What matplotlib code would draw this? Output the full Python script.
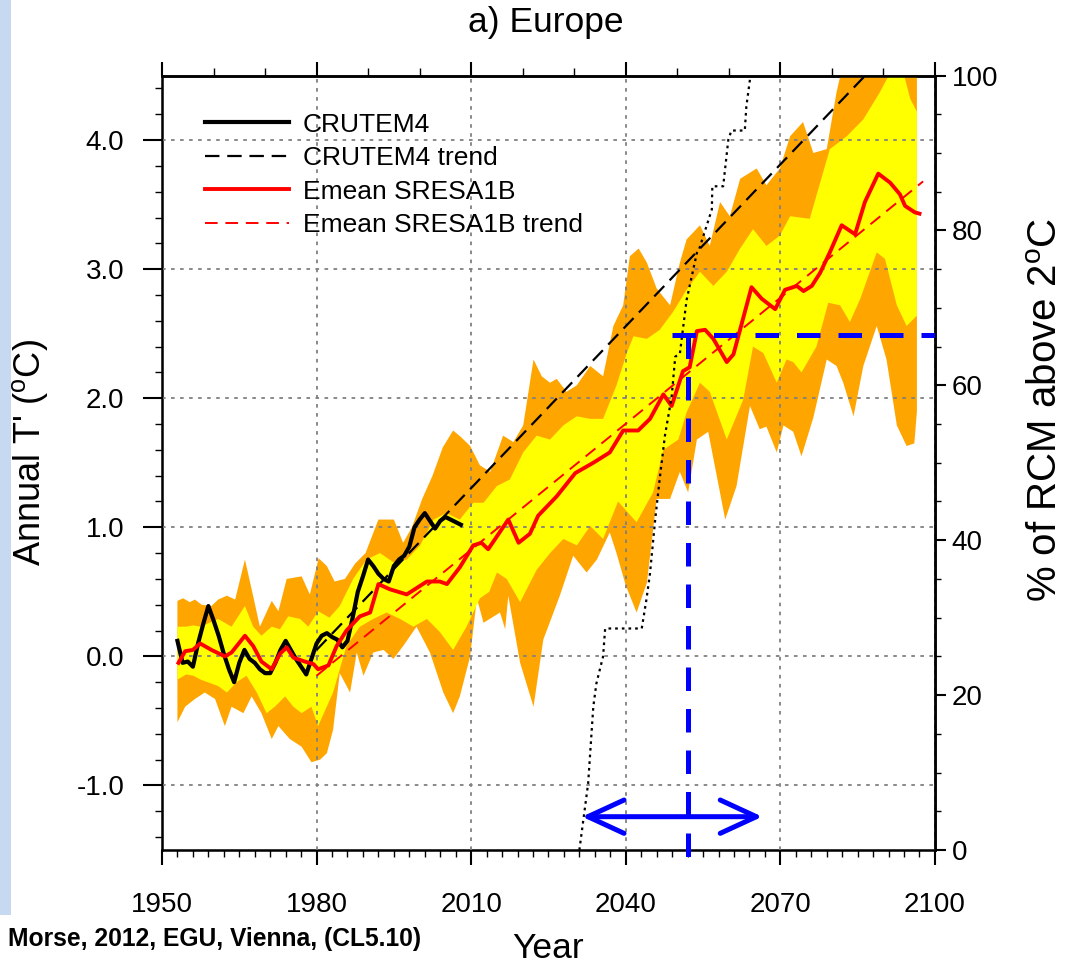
import numpy as np
import matplotlib.pyplot as plt
from matplotlib.patches import Rectangle
from matplotlib.lines import Line2D
from matplotlib.ticker import MultipleLocator, FormatStrFormatter

plt.rcParams['font.family'] = ['Liberation Sans', 'DejaVu Sans']
plt.rcParams['mathtext.fontset'] = 'custom'
plt.rcParams['mathtext.rm'] = 'Liberation Sans'
plt.rcParams['axes.unicode_minus'] = False

# ---- CRUTEM4 observed anomaly (annual, 1953-2008) ----
crutem_years = np.arange(1953, 2009)
crutem = [0.12, -0.05, -0.04, -0.08, 0.10, 0.25, 0.39, 0.28, 0.16, 0.02,
          -0.10, -0.20, -0.05, 0.05, -0.02, -0.05, -0.10, -0.13, -0.13, -0.05,
          0.05, 0.12, 0.05, -0.02, -0.08, -0.14, -0.02, 0.10, 0.16, 0.18,
          0.15, 0.13, 0.07, 0.12, 0.30, 0.50, 0.62, 0.75, 0.70, 0.64,
          0.60, 0.58, 0.70, 0.75, 0.78, 0.85, 1.00, 1.06, 1.11, 1.05,
          0.99, 1.05, 1.08, 1.06, 1.04, 1.02]
crutem_trend_years = [1980, 2097]
crutem_trend = [0.05, 4.94]

# ---- ensemble mean SRES A1B ----
emean_years = [1953.2, 1954.5, 1956.0, 1957.4, 1959.6, 1962.2, 1963.5, 1966.1, 1967.7,
               1969.3, 1971.3, 1972.9, 1974.2, 1975.5, 1977.7, 1979.4, 1980.3, 1982.3,
               1983.9, 1985.8, 1988.4, 1990.4, 1992.0, 1994.2, 1997.5, 2001.4, 2003.9,
               2005.3, 2007.8, 2010.4, 2012.0, 2013.3, 2015.0, 2017.2, 2019.2, 2021.4,
               2023.0, 2026.6, 2030.2, 2033.7, 2036.9, 2039.5, 2042.4, 2044.7, 2047.3,
               2048.9, 2051.1, 2052.4, 2053.8, 2055.4, 2057.0, 2059.6, 2060.9, 2064.4,
               2066.4, 2069.0, 2070.9, 2073.2, 2074.5, 2076.1, 2077.7, 2079.6, 2081.9,
               2084.5, 2086.4, 2089.0, 2091.3, 2093.2, 2094.2, 2096.1, 2097.0]
emean = [-0.05, 0.04, 0.05, 0.10, 0.05, 0.00, 0.03, 0.16, 0.08,
         -0.04, -0.10, 0.02, 0.07, -0.01, -0.04, -0.06, -0.10, -0.07,
         0.08, 0.20, 0.31, 0.34, 0.56, 0.52, 0.48, 0.58, 0.58,
         0.56, 0.69, 0.86, 0.88, 0.83, 0.93, 1.06, 0.88, 0.95,
         1.09, 1.24, 1.42, 1.50, 1.58, 1.75, 1.75, 1.84, 2.03,
         1.94, 2.21, 2.24, 2.52, 2.53, 2.46, 2.28, 2.34, 2.86,
         2.77, 2.69, 2.84, 2.87, 2.83, 2.87, 2.97, 3.13, 3.34,
         3.27, 3.52, 3.74, 3.67, 3.58, 3.49, 3.44, 3.43]
emean_trend_years = [1980, 2097.7]
emean_trend = [-0.15, 3.68]

# ---- outer spread (orange) ----
outer_hi_years = [1953.0, 1954.1, 1955.4, 1956.4, 1957.7, 1959.6, 1960.9, 1962.6, 1964.2,
                  1966.1, 1967.4, 1969.0, 1971.3, 1972.6, 1974.2, 1977.1, 1978.7, 1980.4,
                  1982.0, 1983.5, 1985.5, 1987.5, 1989.5, 1992.0, 1995.0, 1996.8, 1998.5,
                  2000.5, 2002.5, 2004.5, 2006.5, 2008.0, 2009.8, 2011.7, 2013.7, 2016.2,
                  2018.2, 2020.1, 2022.1, 2023.7, 2025.3, 2026.6, 2028.5, 2030.5, 2033.1,
                  2035.6, 2037.6, 2039.5, 2040.8, 2042.5, 2044.1, 2046.0, 2048.6, 2050.5,
                  2051.8, 2054.4, 2056.3, 2058.3, 2060.2, 2062.2, 2065.4, 2067.3, 2069.9,
                  2071.9, 2074.4, 2076.4, 2079.0, 2080.9, 2082.5, 2090.0, 2096.5]
outer_hi = [0.43, 0.45, 0.42, 0.44, 0.40, 0.39, 0.44, 0.47, 0.44,
            0.75, 0.52, 0.23, 0.43, 0.35, 0.60, 0.62, 0.48, 0.76,
            0.70, 0.58, 0.60, 0.72, 0.80, 1.06, 1.06, 0.88, 1.00,
            1.22, 1.40, 1.62, 1.75, 1.70, 1.63, 1.48, 1.43, 1.71,
            1.66, 1.79, 2.30, 2.17, 2.12, 2.15, 2.05, 2.10, 2.25,
            2.17, 2.56, 2.72, 3.10, 3.16, 3.05, 2.85, 2.72, 3.05,
            3.23, 3.34, 3.18, 3.52, 3.41, 3.70, 3.78, 3.65, 3.78,
            4.03, 4.14, 3.90, 3.93, 4.37, 4.65, 4.80, 4.80]
outer_lo_years = [1953.0, 1954.5, 1956.4, 1958.3, 1960.3, 1962.2, 1963.5, 1965.8, 1967.4,
                  1969.3, 1971.3, 1972.6, 1974.8, 1977.1, 1979.0, 1980.7, 1982.0, 1983.2,
                  1984.5, 1986.5, 1987.8, 1989.1, 1991.0, 1993.0, 1994.9, 1996.8, 1999.4,
                  2002.0, 2004.6, 2006.5, 2007.8, 2009.8, 2011.1, 2012.4, 2015.6, 2016.6,
                  2017.2, 2019.5, 2022.1, 2024.0, 2027.2, 2029.8, 2032.4, 2034.4, 2036.9,
                  2038.2, 2040.0, 2042.1, 2044.1, 2046.0, 2048.6, 2050.5, 2052.1, 2053.8,
                  2056.0, 2059.3, 2061.5, 2064.1, 2066.0, 2067.3, 2069.3, 2070.6, 2072.5,
                  2074.1, 2076.4, 2079.0, 2080.9, 2082.2, 2084.2, 2086.1, 2088.7, 2090.6,
                  2092.6, 2094.5, 2096.0, 2096.5]
outer_lo = [-0.51, -0.39, -0.33, -0.28, -0.33, -0.54, -0.39, -0.44, -0.31,
            -0.44, -0.64, -0.54, -0.64, -0.70, -0.82, -0.80, -0.75, -0.57,
            -0.13, -0.28, 0.03, -0.15, 0.03, 0.05, -0.02, 0.08, 0.23,
            0.03, -0.28, -0.44, -0.31, 0.00, 0.45, 0.26, 0.34, 0.21,
            0.47, -0.05, -0.39, 0.13, 0.47, 0.78, 0.65, 0.75, 0.96,
            0.80, 0.55, 0.34, 0.57, 1.22, 1.22, 1.43, 1.27, 1.68,
            1.74, 1.06, 1.32, 1.94, 1.76, 1.78, 1.58, 1.79, 1.74,
            1.55, 1.85, 2.30, 2.25, 2.12, 1.86, 2.25, 2.56, 2.30,
            1.79, 1.63, 1.65, 1.90]

# ---- inner spread (yellow) ----
inner_hi_years = [1953.0, 1954.7, 1956.1, 1957.5, 1960.9, 1963.5, 1966.1, 1967.7, 1969.3,
                  1971.3, 1972.9, 1974.5, 1976.8, 1978.4, 1980.3, 1982.5, 1984.5, 1987.1,
                  1989.7, 1992.3, 1994.9, 1997.5, 2000.1, 2002.7, 2005.2, 2007.8, 2010.4,
                  2012.4, 2015.0, 2017.5, 2020.1, 2022.7, 2025.3, 2027.9, 2030.5, 2033.1,
                  2035.6, 2038.2, 2040.2, 2041.5, 2044.1, 2046.6, 2049.2, 2051.8, 2054.4,
                  2057.0, 2059.6, 2062.2, 2064.7, 2067.3, 2069.9, 2071.9, 2075.7, 2079.6,
                  2082.9, 2086.1, 2089.3, 2091.3, 2093.9, 2095.2, 2096.5]
inner_hi = [0.23, 0.23, 0.24, 0.23, 0.29, 0.23, 0.39, 0.23, 0.16,
            0.23, 0.21, 0.31, 0.29, 0.23, 0.35, 0.30, 0.39, 0.60,
            0.75, 0.80, 0.73, 0.75, 0.86, 1.06, 1.11, 1.06, 1.19,
            1.19, 1.32, 1.37, 1.58, 1.71, 1.68, 1.79, 1.86, 1.84,
            1.84, 2.10, 2.35, 2.48, 2.46, 2.53, 2.67, 2.84, 2.98,
            2.87, 2.98, 3.16, 3.31, 3.18, 3.26, 3.41, 3.39, 3.93,
            4.03, 4.16, 4.37, 4.52, 4.52, 4.32, 4.22]
inner_lo_years = [1953.0, 1954.7, 1956.1, 1957.5, 1960.9, 1962.6, 1964.5, 1966.4, 1968.4,
                  1970.3, 1971.9, 1973.9, 1975.5, 1977.1, 1979.0, 1980.3, 1983.2, 1985.8,
                  1988.4, 1991.0, 1993.6, 1996.2, 1998.8, 2001.4, 2003.9, 2006.5, 2009.1,
                  2011.7, 2013.5, 2015.0, 2016.9, 2019.5, 2022.7, 2025.3, 2027.9, 2030.5,
                  2033.1, 2035.6, 2038.5, 2042.1, 2045.3, 2047.3, 2050.2, 2051.8, 2054.4,
                  2056.3, 2059.6, 2062.8, 2064.7, 2066.7, 2069.3, 2071.2, 2072.5, 2074.1,
                  2077.0, 2079.3, 2081.6, 2083.5, 2085.5, 2088.7, 2090.3, 2092.6, 2094.5,
                  2096.5]
inner_lo = [-0.18, -0.14, -0.15, -0.18, -0.23, -0.28, -0.20, -0.15, -0.28,
            -0.44, -0.39, -0.31, -0.39, -0.44, -0.39, -0.54, -0.28, 0.08,
            0.23, 0.29, 0.34, 0.29, 0.23, 0.29, 0.19, 0.05, 0.23,
            0.45, 0.50, 0.65, 0.60, 0.42, 0.67, 0.80, 0.91, 0.86,
            1.01, 0.91, 1.20, 1.04, 1.27, 1.60, 1.68, 1.89, 2.12,
            2.05, 1.68, 1.99, 2.40, 2.35, 2.12, 2.30, 2.28, 2.20,
            2.40, 2.74, 2.72, 2.59, 2.77, 3.13, 3.08, 2.72, 2.56,
            2.64]

# ---- share of RCMs above 2 degC (right axis) ----
rcm_years = [2031.0, 2032.7, 2033.7, 2034.3, 2035.6, 2036.0, 2043.1, 2044.0, 2044.7,
             2045.7, 2046.6, 2047.6, 2048.9, 2049.6, 2050.5, 2051.8, 2053.8, 2054.2,
             2056.7, 2056.8, 2058.9, 2059.9, 2060.5, 2063.1, 2063.4, 2064.2]
rcm_pct = [0.0, 8.6, 18.5, 21.5, 25.0, 28.6, 28.6, 32.3, 35.7,
           42.6, 48.0, 53.5, 58.5, 63.7, 64.1, 71.0, 77.1, 77.5,
           82.7, 85.7, 85.7, 91.7, 92.9, 92.9, 96.0, 100.0]

# year where two thirds of the RCMs pass 2 degC, and the spread of that crossing
cross_year = 2052.0
cross_pct = 66.5
cross_line_start = 2048.9
spread_years = [2031.5, 2066.5]
spread_pct = 4.3

legend_labels = ['CRUTEM4', 'CRUTEM4 trend', 'Emean SRESA1B', 'Emean SRESA1B trend']

fig = plt.figure(figsize=(10.82, 9.66), dpi=100)
ax = fig.add_axes([0.1497, 0.1201, 0.7144, 0.8017])

# spread bands
ax.fill(np.r_[outer_hi_years, outer_lo_years[::-1]], np.r_[outer_hi, outer_lo[::-1]],
        color='#FFA500', lw=0, zorder=1)
ax.fill(np.r_[inner_hi_years, inner_lo_years[::-1]], np.r_[inner_hi, inner_lo[::-1]],
        color='#FFFF00', lw=0, zorder=1.1)

ax.plot(crutem_years, crutem, color='black', lw=3, zorder=4)
ax.plot(crutem_trend_years, crutem_trend, color='black', lw=1.6, dashes=(6.5, 3.5), zorder=3.5)
ax.plot(emean_years, emean, color='red', lw=2.8, zorder=4)
ax.plot(emean_trend_years, emean_trend, color='red', lw=1.4, dashes=(6.5, 4), zorder=3.5)

ax.set_xlim(1950, 2100)
ax.set_ylim(-1.5, 4.5)
ax.xaxis.set_major_locator(MultipleLocator(30))
ax.xaxis.set_minor_locator(MultipleLocator(3))
ax.yaxis.set_major_locator(MultipleLocator(1.0))
ax.yaxis.set_minor_locator(MultipleLocator(0.2))
ax.yaxis.set_major_formatter(FormatStrFormatter('%.1f'))
ax.set_axisbelow(False)
ax.grid(True, which='major', color='#808080', linestyle=(0, (2, 3)), lw=1.3)
ax.tick_params(axis='x', which='major', direction='out', length=11, width=1.5,
               pad=19, labelsize=20)
ax.tick_params(axis='x', which='minor', direction='out', length=5, width=1)
ax.tick_params(axis='y', which='major', direction='out', length=14, width=1.5,
               pad=13, labelsize=20)
ax.tick_params(axis='y', which='minor', direction='out', length=5, width=1)
for s in ax.spines.values():
    s.set_linewidth(1.8)

top = ax.secondary_xaxis('top')
top.xaxis.set_major_locator(MultipleLocator(30))
top.xaxis.set_minor_locator(MultipleLocator(10))
top.tick_params(which='major', direction='out', length=10, width=1.5, labeltop=False)
top.tick_params(which='minor', direction='out', length=6, width=1)
top.spines['top'].set_linewidth(1.8)

# right axis: percentage of RCMs above 2 degC
axr = ax.twinx()
axr.set_ylim(0, 100)
axr.yaxis.set_major_locator(MultipleLocator(20))
axr.yaxis.set_minor_locator(MultipleLocator(5))
axr.tick_params(which='major', direction='out', length=8, width=1.5, pad=4, labelsize=20)
axr.tick_params(which='minor', direction='out', length=4, width=1)
axr.spines['right'].set_linewidth(1.8)

axr.plot(rcm_years, rcm_pct, color='black', lw=1.6, linestyle=(0, (1.2, 1.8)), zorder=3)
axr.plot([cross_line_start, 2100], [cross_pct, cross_pct], color='#0000FF', lw=3.6,
         dashes=(4.7, 3.6), zorder=5)
axr.plot([cross_year, cross_year], [cross_pct, axr.get_ylim()[0] - 1.6], color='#0000FF',
         lw=3.6, dashes=(4.7, 3.6), zorder=5, clip_on=False)
axr.annotate('', xy=(spread_years[1], spread_pct), xytext=(spread_years[0], spread_pct),
             arrowprops=dict(arrowstyle='<->,head_length=1.3,head_width=0.6',
                             color='#0000FF', lw=3.6, shrinkA=0, shrinkB=0,
                             mutation_scale=20))

handles = [Line2D([], [], color='black', lw=3),
           Line2D([], [], color='black', lw=1.6, dashes=(6.5, 3.5)),
           Line2D([], [], color='red', lw=2.8),
           Line2D([], [], color='red', lw=1.4, dashes=(6.5, 4))]
ax.legend(handles, legend_labels, loc='upper left', bbox_to_anchor=(0.0556, 0.952),
          frameon=False, fontsize=19, handlelength=3.2, handletextpad=0.5,
          labelspacing=0.36, borderpad=0, borderaxespad=0)

fig.text(0.504, 0.977, 'a) Europe', ha='center', va='center', fontsize=25.5)
fig.text(0.5065, 0.0085, 'Year', ha='center', va='baseline', fontsize=25.5)
fig.text(0.0277, 0.532, r"Annual T' ($^{\rm o}$C)", rotation=90, ha='center',
         va='center', fontsize=26)
fig.text(0.9665, 0.5756, r"% of RCM above 2$^{\rm o}$C", rotation=90, ha='center',
         va='center', fontsize=29)
fig.text(0.0074, 0.028, 'Morse, 2012, EGU, Vienna, (CL5.10)', ha='left', va='center',
         fontsize=17.7, fontweight='bold')
fig.patches.append(Rectangle((0, 1 - 915 / 966), 11 / 1082, 915 / 966,
                             transform=fig.transFigure, color='#C6D9F1', lw=0))

fig.savefig('out.png', dpi=100)
